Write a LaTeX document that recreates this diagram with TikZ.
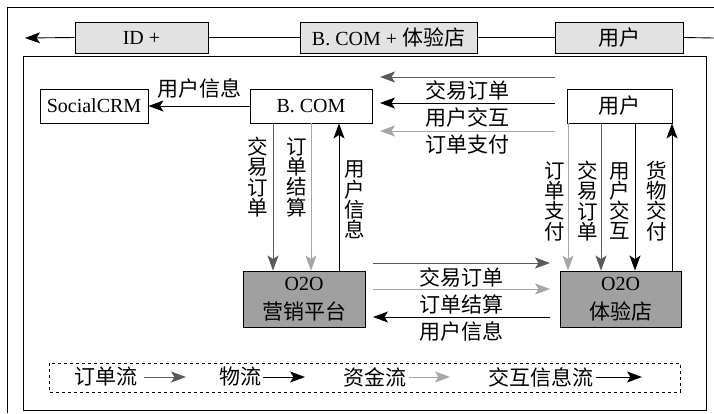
\documentclass[tikz,border=0pt]{standalone}
\usepackage{fontspec}
\setmainfont{Liberation Serif}
\newfontfamily\cjk{Noto Sans CJK SC}
\usetikzlibrary{arrows.meta}
\definecolor{ordc}{HTML}{5A5A5A}
\definecolor{payc}{HTML}{A6A6A6}
\definecolor{topfill}{HTML}{E2E2E2}
\definecolor{o2ofill}{HTML}{A0A0A0}
\begin{document}
\begin{tikzpicture}[x=1pt,y=-1pt,
  every node/.style={font=\fontsize{20}{20}\selectfont, inner sep=0pt},
  box/.style={draw, line width=0.9pt, minimum height=34pt},
  topbox/.style={box, fill=topfill, minimum height=31pt},
  o2o/.style={box, fill=o2ofill, minimum height=56pt, align=center, font=\fontsize{20}{29}\selectfont},
  tip/.style={-{Stealth[length=15pt,width=11pt,inset=3.5pt]}},
  blkf/.style={line width=0.9pt, tip, draw=black},
  ordf/.style={line width=0.9pt, tip, draw=ordc},
  payf/.style={line width=0.9pt, tip, draw=payc},
  vlab/.style={align=center, font=\cjk\fontsize{20.5}{20.3}\selectfont},
  lab/.style={font=\cjk\fontsize{21}{21}\selectfont}
]
\useasboundingbox (0,0) rectangle (714,413);
% frames
\draw[line width=0.9pt] (7,413) -- (7,7) -- (714,7);
\draw[line width=0.9pt] (23,56) rectangle (706,410);

% top row
\coordinate (tl) at (25,38);
\coordinate (tr) at (714,38);
\node[topbox, minimum width=133pt] (idb) at (141.5,37.5) {ID +};
\node[topbox, minimum width=177pt] (bb) at (388.5,37.5) {B. COM + {\cjk\fontsize{21}{21}\selectfont 体验店}};
\node[topbox, minimum width=128pt] (ub) at (619,37.5) {\cjk\fontsize{21}{21}\selectfont 用户};
\draw[blkf] (idb.west) -- (tl);
\draw[line width=0.9pt] (idb.east) -- (bb.west);
\draw[line width=0.9pt] (bb.east) -- (ub.west);
\draw[line width=0.9pt] (ub.east) -- (tr);

% middle nodes
\node[box, minimum width=108pt] (social) at (94,106) {SocialCRM};
\node[box, minimum width=122pt] (bcom) at (311,106) {B. COM};
\node[box, minimum width=105pt] (user) at (619.5,106) {\cjk\fontsize{21}{21}\selectfont 用户};
\node[o2o, minimum width=122pt] (oa) at (304,299) {O2O\\{\cjk\fontsize{21}{21}\selectfont 营销平台}};
\node[o2o, minimum width=121pt] (ob) at (620.5,299) {O2O\\{\cjk\fontsize{21}{21}\selectfont 体验店}};

% B.COM -> SocialCRM
\draw[blkf] (bcom.west) -- node[lab, midway, yshift=18pt] {用户信息} (social.east);

% user -> B.COM horizontal arrows
\coordinate (h1s) at (555,77);  \coordinate (h1e) at (380,77);
\coordinate (h2s) at (555,103); \coordinate (h2e) at (380,103);
\coordinate (h3s) at (555,131); \coordinate (h3e) at (380,131);
\draw[ordf] (h1s) -- node[lab, midway, yshift=-13pt] {交易订单} (h1e);
\draw[blkf] (h2s) -- node[lab, midway, yshift=-14pt] {用户交互} (h2e);
\draw[payf] (h3s) -- node[lab, midway, yshift=-14pt] {订单支付} (h3e);

% B.COM <-> O2O marketing platform
\coordinate (b1) at ([xshift=-38pt]bcom.south);
\coordinate (b2) at ([xshift=0pt]bcom.south);
\coordinate (b3) at ([xshift=28pt]bcom.south);
\draw[ordf] (b1) -- (b1 |- oa.north);
\draw[payf] (b2) -- (b2 |- oa.north);
\draw[blkf] (b3 |- oa.north) -- (b3);
\node[vlab] at (258,177) {交\\易\\订\\单};
\node[vlab] at (297,177) {订\\单\\结\\算};
\node[vlab] at (355,200) {用\\户\\信\\息};

% user <-> O2O store
\coordinate (u1) at ([xshift=-51.5pt]user.south);
\coordinate (u2) at ([xshift=-18.5pt]user.south);
\coordinate (u3) at ([xshift=15.5pt]user.south);
\coordinate (u4) at ([xshift=52.5pt]user.south);
\draw[payf] (u1) -- (u1 |- ob.north);
\draw[ordf] (u2) -- (u2 |- ob.north);
\draw[blkf] (u3) -- (u3 |- ob.north);
\draw[blkf] (u4 |- ob.north) -- (u4);
\node[vlab] at (555,201) {订\\单\\支\\付};
\node[vlab] at (588,201) {交\\易\\订\\单};
\node[vlab] at (620,201) {用\\户\\交\\互};
\node[vlab] at (657,201) {货\\物\\交\\付};

% O2O platform <-> O2O store
\coordinate (m1s) at (373,263); \coordinate (m1e) at (550,263);
\coordinate (m2s) at (373,289); \coordinate (m2e) at (550,289);
\coordinate (m3s) at (550,317); \coordinate (m3e) at (373,317);
\draw[ordf] (m1s) -- node[lab, midway, yshift=-14pt] {交易订单} (m1e);
\draw[payf] (m2s) -- node[lab, midway, yshift=-15pt] {订单结算} (m2e);
\draw[blkf] (m3s) -- node[lab, midway, yshift=-14pt] {用户信息} (m3e);

% legend
\draw[line width=0.9pt, dashed] (49,363) rectangle (680,392);
\node[lab] (l1) at (106,377) {订单流};
\node[lab] (l2) at (240,377) {物流};
\node[lab] (l3) at (375,377) {资金流};
\node[lab] (l4) at (541,377) {交互信息流};
\coordinate (a1s) at (144,377); \coordinate (a1e) at (186,377);
\coordinate (a2s) at (263,377); \coordinate (a2e) at (305,377);
\coordinate (a3s) at (409,377); \coordinate (a3e) at (450,377);
\coordinate (a4s) at (596,377); \coordinate (a4e) at (642,377);
\draw[ordf] (a1s) -- (a1e);
\draw[blkf] (a2s) -- (a2e);
\draw[payf] (a3s) -- (a3e);
\draw[blkf] (a4s) -- (a4e);
\end{tikzpicture}
\end{document}
